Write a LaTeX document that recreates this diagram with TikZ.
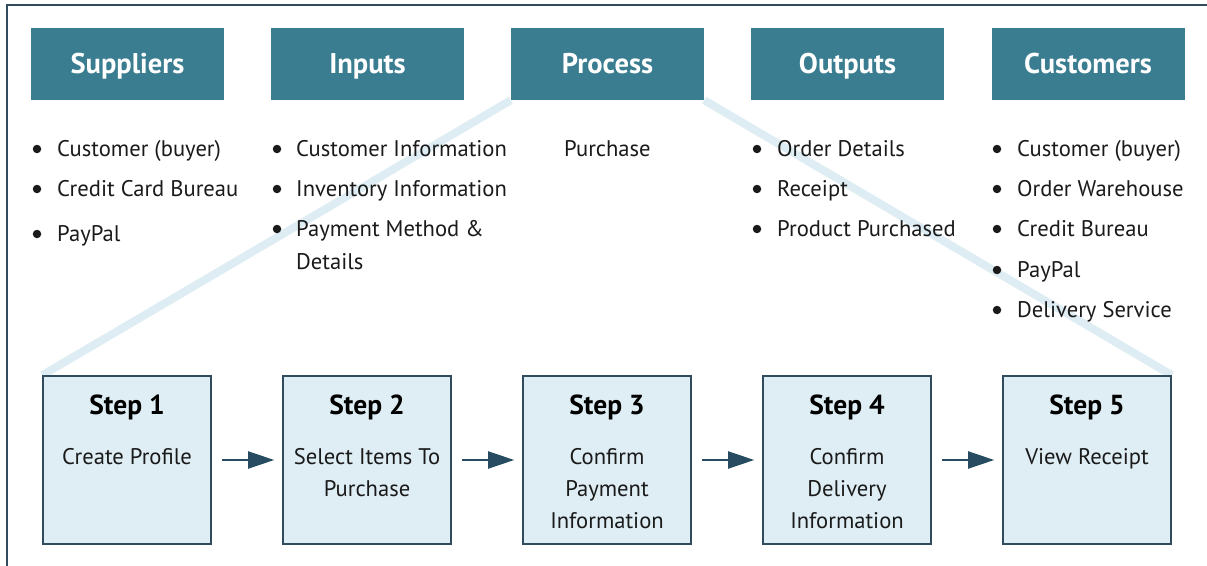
\documentclass[tikz,border=0pt]{standalone}
\usepackage{fontspec}
\setmainfont{PT Sans}
\usetikzlibrary{arrows.meta,backgrounds}
\definecolor{hdrcol}{HTML}{3A7D91}
\definecolor{textcol}{HTML}{1A1A1A}
\definecolor{stepfill}{HTML}{DFEEF4}
\definecolor{edgecol}{HTML}{2F4B5C}
\definecolor{funnelcol}{HTML}{DDEDF3}
\definecolor{arrowcol}{HTML}{274B60}
\tikzset{
  hdr/.style={fill=hdrcol, minimum width=193pt, minimum height=72pt, inner sep=0pt, text=white, text height=24pt, text depth=6pt, font=\bfseries\fontsize{28.5}{32}\selectfont},
  stepbox/.style={draw=edgecol, line width=1.6pt, fill=stepfill, minimum width=168pt, minimum height=168pt, inner sep=0pt},
  body/.style={font=\fontsize{22.6}{26}\selectfont, anchor=base west, inner sep=0pt, text=textcol},
  ctext/.style={font=\fontsize{22.6}{26}\selectfont, anchor=base, inner sep=0pt, text=textcol},
  stitle/.style={font=\bfseries\fontsize{27.5}{31}\selectfont, anchor=base, inner sep=0pt, text=black},
  bul/.style={circle, fill=textcol, minimum size=8.5pt, inner sep=0pt},
  funnel/.style={draw=funnelcol, line width=8pt},
  flow/.style={draw=arrowcol, line width=2pt, -{Triangle[length=26pt,width=17pt]}, shorten <=10pt, shorten >=8pt},
}
\begin{document}
\begin{tikzpicture}[x=1pt,y=-1pt]
\useasboundingbox (0,0) rectangle (1207,565);
\draw[edgecol, line width=1.2pt] (7,566) -- (7,5) -- (1208,5);
% headers
\node[hdr] (hs) at (127.5,64) {Suppliers};
\node[hdr] (hi) at (367.5,64) {Inputs};
\node[hdr] (hp) at (607.5,64) {Process};
\node[hdr] (ho) at (847.5,64) {Outputs};
\node[hdr] (hc) at (1088,64) {Customers};
% steps
\node[stepbox] (s1) at (127,460) {};
\node[stepbox] (s2) at (367,460) {};
\node[stepbox] (s3) at (607,460) {};
\node[stepbox] (s4) at (847,460) {};
\node[stepbox] (s5) at (1087,460) {};
\begin{scope}[on background layer]
\draw[funnel] (hp.south west) -- (s1.north west);
\draw[funnel] (hp.south east) -- (s5.north east);
\end{scope}
% step texts
\node[stitle] (t1) at (127,414) {Step 1};
\node[stitle] (t2) at (367,414) {Step 2};
\node[stitle] (t3) at (607,414) {Step 3};
\node[stitle] (t4) at (847,414) {Step 4};
\node[stitle] (t5) at (1087,414) {Step 5};
\node[ctext] (d1) at (127,464) {Create Profile};
\node[ctext] (d2a) at (367,464) {Select Items To};
\node[ctext] (d2b) at (367,496) {Purchase};
\node[ctext] (d3a) at (607,464) {Confirm};
\node[ctext] (d3b) at (607,496) {Payment};
\node[ctext] (d3c) at (607,528) {Information};
\node[ctext] (d4a) at (847,464) {Confirm};
\node[ctext] (d4b) at (847,496) {Delivery};
\node[ctext] (d4c) at (847,528) {Information};
\node[ctext] (d5) at (1087,464) {View Receipt};
% arrows
\draw[flow] (s1.east) -- (s2.west);
\draw[flow] (s2.east) -- (s3.west);
\draw[flow] (s3.east) -- (s4.west);
\draw[flow] (s4.east) -- (s5.west);
% suppliers list
\node[bul] (bs1) at (37,149) {};
\node[body] (ls1) at (57,156) {Customer (buyer)};
\node[bul] (bs2) at (37,189) {};
\node[body] (ls2) at (57,196) {Credit Card Bureau};
\node[bul] (bs3) at (37,234) {};
\node[body] (ls3) at (57,241) {PayPal};
% inputs list
\node[bul] (bi1) at (277,149) {};
\node[body] (li1) at (296,156) {Customer Information};
\node[bul] (bi2) at (277,189) {};
\node[body] (li2) at (296,196) {Inventory Information};
\node[bul] (bi3) at (277,229) {};
\node[body] (li3) at (296,236) {Payment Method \&};
\node[body] (li4) at (296,269) {Details};
% process
\node[body] (lp1) at (564,156) {Purchase};
% outputs list
\node[bul] (bo1) at (757,149) {};
\node[body] (lo1) at (777,156) {Order Details};
\node[bul] (bo2) at (757,189) {};
\node[body] (lo2) at (777,196) {Receipt};
\node[bul] (bo3) at (757,229) {};
\node[body] (lo3) at (777,236) {Product Purchased};
% customers list
\node[bul] (bc1) at (997,149) {};
\node[body] (lc1) at (1017,156) {Customer (buyer)};
\node[bul] (bc2) at (997,189) {};
\node[body] (lc2) at (1017,196) {Order Warehouse};
\node[bul] (bc3) at (997,229) {};
\node[body] (lc3) at (1017,236) {Credit Bureau};
\node[bul] (bc4) at (997,270) {};
\node[body] (lc4) at (1017,277) {PayPal};
\node[bul] (bc5) at (997,310) {};
\node[body] (lc5) at (1017,317) {Delivery Service};
\end{tikzpicture}
\end{document}
